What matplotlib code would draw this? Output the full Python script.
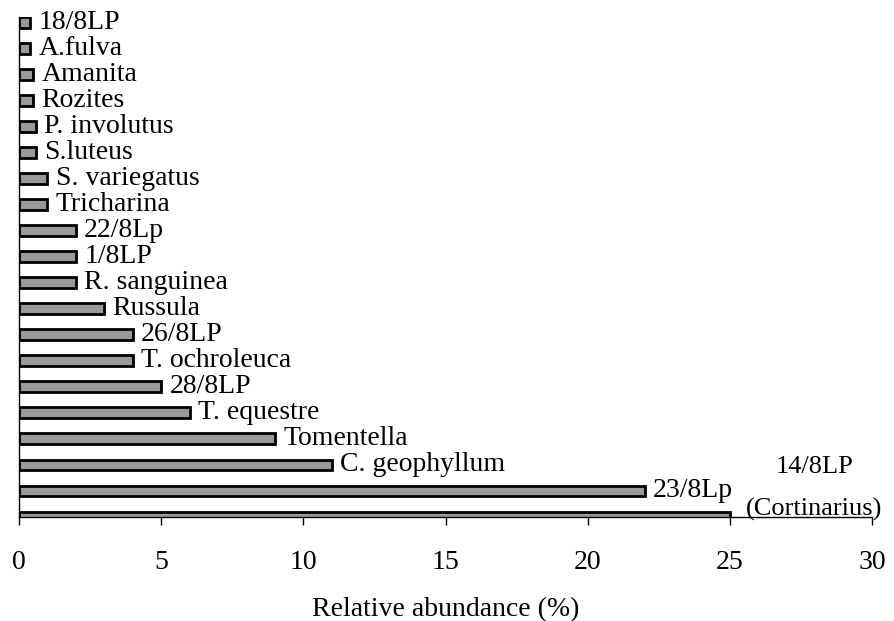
import matplotlib
matplotlib.use("Agg")
import matplotlib.pyplot as plt

# Data (bottom to top)
taxa = ["14/8LP\n(Cortinarius)", "23/8Lp", "C. geophyllum", "Tomentella", "T. equestre",
        "28/8LP", "T. ochroleuca", "26/8LP", "Russula", "R. sanguinea", "1/8LP",
        "22/8Lp", "Tricharina", "S. variegatus", "S.luteus", "P. involutus",
        "Rozites", "Amanita", "A.fulva", "18/8LP"]
abundance = [25, 22, 11, 9, 6, 5, 4, 4, 3, 2, 2, 2, 1, 1, 0.6, 0.6, 0.5, 0.5, 0.4, 0.4]
xticks = [0, 5, 10, 15, 20, 25, 30]

plt.rcParams['font.family'] = ['Liberation Serif', 'DejaVu Serif']

fig = plt.figure(figsize=(8.94, 6.21), dpi=100)
ax = fig.add_axes([19/894, 1 - 517/621, (872-19)/894, (517-17)/621])

ypos = list(range(len(taxa)))
ax.barh(ypos, abundance, height=0.42, color='#999999', edgecolor='black', linewidth=2, zorder=2)

for i, (t, v) in enumerate(zip(taxa, abundance)):
    if i == 0:
        ax.annotate(t, xy=(v, i), xytext=(61, -3), textcoords='offset points',
                    ha='center', va='bottom', multialignment='center', linespacing=2.12,
                    fontsize=19, annotation_clip=False)
    else:
        ax.annotate(t, xy=(v, i), xytext=(6, 0), textcoords='offset points',
                    ha='left', va='center', fontsize=20, annotation_clip=False)

ax.set_xlim(0, 30)
ax.set_ylim(0, 19.22)
ax.set_xticks(xticks)
ax.set_xticklabels([str(x) for x in xticks], fontsize=20)
ax.set_yticks([])
ax.tick_params(axis='x', direction='out', length=6, width=1, pad=18)
for s in ['top', 'right']:
    ax.spines[s].set_visible(False)
ax.spines['left'].set_linewidth(1)
ax.spines['bottom'].set_linewidth(1)
ax.spines['bottom'].set_zorder(3)
ax.set_xlabel("Relative abundance (%)", fontsize=20, labelpad=16)

fig.savefig("out.png", dpi=100)
